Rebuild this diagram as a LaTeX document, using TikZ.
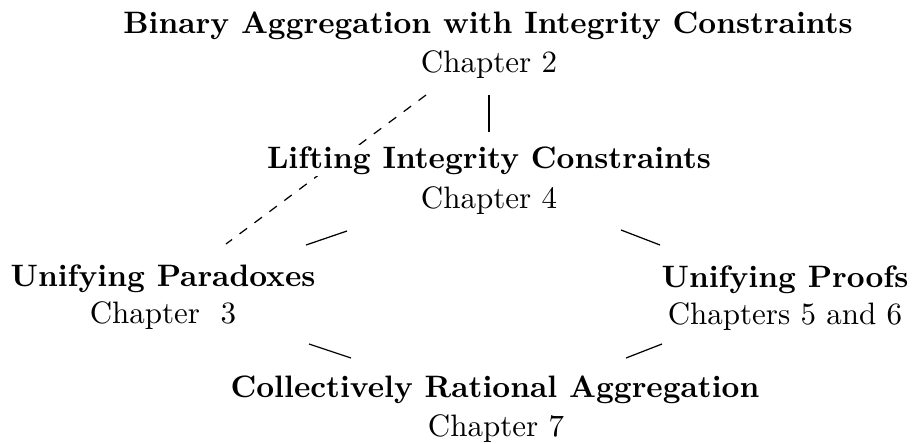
\documentclass[tikz,border=0pt]{standalone}
\begin{document}
\begin{tikzpicture}[x=0.3226pt,y=-0.3226pt,
  ttl/.style={font=\bfseries,inner sep=0.5pt,anchor=base,fill=white},
  chp/.style={inner sep=0.5pt,anchor=base,fill=white},
  link/.style={line width=0.4pt}]
\useasboundingbox (0,0) rectangle (917,443);
% connector ends
\coordinate (v1) at (489,95);
\coordinate (v2) at (489,132);
\coordinate (d1) at (426,95);
\coordinate (d2) at (226,244);
\coordinate (a1) at (347,231);
\coordinate (a2) at (306,245);
\coordinate (b1) at (621,230);
\coordinate (b2) at (660,245);
\coordinate (c1) at (309,344);
\coordinate (c2) at (351,358);
\coordinate (e1) at (626,358);
\coordinate (e2) at (662,344);
\draw[link] (v1) -- (v2);
\draw[link,dashed] (d1) -- (d2);
\draw[link] (a1) -- (a2);
\draw[link] (b1) -- (b2);
\draw[link] (c1) -- (c2);
\draw[link] (e1) -- (e2);
% titles
\node[ttl] (bin)  at (488,33)  {Binary Aggregation with Integrity Constraints};
\node[chp] (bin2) at (489,72)  {Chapter 2};
\node[ttl] (lift) at (489,168) {Lifting Integrity Constraints};
\node[chp] (lift2) at (489,208) {Chapter 4};
\node[ttl] (par)  at (163,286) {Unifying Paradoxes};
\node[chp] (par2) at (163,323) {Chapter\ \ 3};
\node[ttl] (prf)  at (785,287) {Unifying Proofs};
\node[chp] (prf2) at (785,324) {Chapters 5 and 6};
\node[ttl] (col)  at (495,397) {Collectively Rational Aggregation};
\node[chp] (col2) at (496,436) {Chapter 7};
\end{tikzpicture}
\end{document}
